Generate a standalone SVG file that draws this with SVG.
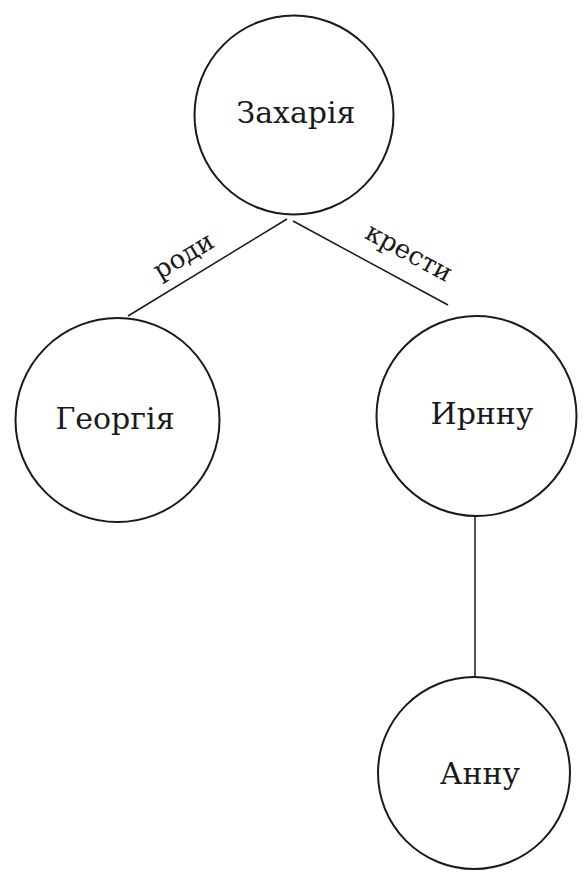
<svg xmlns="http://www.w3.org/2000/svg" width="584" height="876" viewBox="0 0 584 876">
<style>
.node circle{fill:none;stroke:#1a1a1a;stroke-width:2}
.node text{font-family:"DejaVu Serif","Liberation Serif",serif;font-size:30px;fill:#1a1a1a;text-anchor:middle}
.edges line{stroke:#1a1a1a;stroke-width:1.5}
.lbl{font-family:"DejaVu Serif","Liberation Serif",serif;font-size:26px;fill:#1a1a1a;text-anchor:middle}
</style>
<rect width="584" height="876" fill="#fff"/>
<g class="edges" id="connectors">
<line x1="287" y1="219" x2="128" y2="316"/>
<line x1="293" y1="221" x2="448" y2="305"/>
<line x1="475" y1="516" x2="475" y2="677"/>
<text class="lbl" transform="translate(188 263) rotate(-31)">роди</text>
<text class="lbl" transform="translate(405 260) rotate(28.5)">крести</text>
</g>
<g class="node" id="zakharia">
<circle cx="294" cy="115" r="99.5"/>
<text x="296" y="123">Захарія</text>
</g>
<g class="node" id="heorhiia">
<circle cx="117.5" cy="420" r="102"/>
<text x="115" y="429">Георгія</text>
</g>
<g class="node" id="irnu">
<circle cx="476.5" cy="416" r="100"/>
<text x="482" y="424">Ирнну</text>
</g>
<g class="node" id="annu">
<circle cx="474" cy="773" r="96"/>
<text x="480" y="784">Анну</text>
</g>
</svg>
